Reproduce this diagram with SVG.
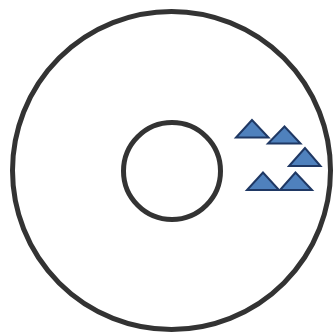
<svg xmlns="http://www.w3.org/2000/svg" width="334" height="335" viewBox="0 0 334 335">
<style>
.ring{fill:none;stroke:#333333;stroke-width:5}
.tri{fill:#4f81bd;stroke:#1f3864;stroke-width:2;stroke-linejoin:miter}
</style>
<rect width="334" height="335" fill="#ffffff"/>
<g id="outer"><circle class="ring" cx="171.5" cy="170.5" r="159"/></g>
<g id="inner"><circle class="ring" cx="172" cy="171" r="48.5"/></g>
<g id="t1"><polygon class="tri" points="252,120 236,137.5 268.5,137.5"/></g>
<g id="t2"><polygon class="tri" points="284.5,126.5 268,143.5 300.5,143.5"/></g>
<g id="t3"><polygon class="tri" points="305,148 289,166 320.5,166"/></g>
<g id="t4"><polygon class="tri" points="263,172.5 247,190 279,190"/></g>
<g id="t5"><polygon class="tri" points="295.5,172.5 280,190 312,190"/></g>
</svg>
